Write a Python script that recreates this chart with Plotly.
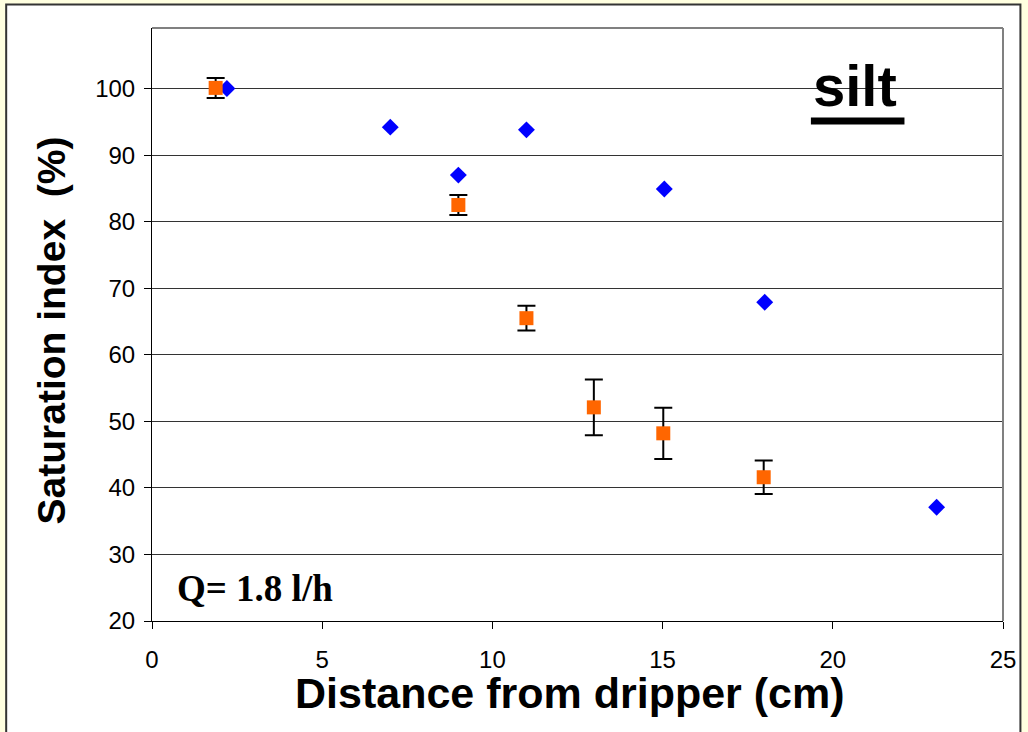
import plotly.graph_objects as go

# Data
blue_x = [2.2, 7.0, 9.0, 11.0, 15.05, 18.0, 23.05]
blue_y = [100.0, 94.2, 87.0, 93.8, 84.9, 67.9, 37.1]

orange_x = [1.87, 9.0, 11.0, 12.98, 15.02, 17.97]
orange_y = [100.1, 82.5, 65.5, 52.1, 48.2, 41.6]
orange_err = [1.5, 1.5, 1.85, 4.2, 3.85, 2.5]

x_ticks = [0, 5, 10, 15, 20, 25]
y_ticks = [20, 30, 40, 50, 60, 70, 80, 90, 100]

fig = go.Figure()
fig.add_trace(go.Scatter(
    x=blue_x, y=blue_y, mode="markers",
    marker=dict(symbol="diamond", size=13, color="#0000FF", line=dict(width=0)),
    showlegend=False))
fig.add_trace(go.Scatter(
    x=orange_x, y=orange_y, mode="markers",
    marker=dict(symbol="square", size=14, color="#FF6600", line=dict(width=0)),
    error_y=dict(type="data", array=orange_err, visible=True, color="black",
                 thickness=2, width=9),
    showlegend=False))

L, R, T, B = 152, 1007, 28, 621
W, H = 1028, 732
pw, ph = R - L, B - T

def px(p):
    return (p - L) / pw

def py(p):
    return (B - p) / ph

shapes = [
    dict(type="rect", xref="paper", yref="paper", layer="below",
         x0=px(5.5), x1=px(1024.5), y0=py(760), y1=py(4.5),
         fillcolor="white", line=dict(color="#333333", width=2)),
]

fig.update_layout(
    width=W, height=H,
    margin=dict(l=L, r=W - R, t=T, b=H - B),
    paper_bgcolor="#FFFFE0",
    plot_bgcolor="#CCCCFF",
    shapes=shapes,
    font=dict(family="Liberation Sans, Arial", color="black"),
    xaxis=dict(range=[0, 25], tickvals=x_ticks, ticks="outside", ticklen=7,
               tickcolor="black", tickfont=dict(size=24), ticklabelstandoff=10,
               showgrid=False, zeroline=False,
               showline=True, linecolor="black", linewidth=1, mirror=False),
    yaxis=dict(range=[20, 109.1], tickvals=y_ticks, ticks="outside", ticklen=7,
               tickcolor="black", tickfont=dict(size=24), ticklabelstandoff=4,
               showgrid=True, gridcolor="#333333", gridwidth=1, zeroline=False,
               showline=True, linecolor="black", linewidth=1),
    annotations=[
        dict(xref="paper", yref="paper", x=px(571.5), y=py(693), xanchor="center",
             yanchor="middle", showarrow=False,
             text="<b>Distance from dripper (cm)</b>", font=dict(size=43)),
        dict(xref="paper", yref="paper", x=px(52), y=py(330), xanchor="center",
             yanchor="middle", showarrow=False, textangle=-90,
             text="<b>Saturation index  (%)</b>", font=dict(size=39)),
        dict(xref="paper", yref="paper", x=px(814), y=py(120), xanchor="left",
             yanchor="bottom", showarrow=False,
             text="<b>silt</b>", font=dict(size=58, family="Liberation Sans, Arial")),
        dict(xref="paper", yref="paper", x=px(175), y=py(588), xanchor="left",
             yanchor="middle", showarrow=False,
             text="<b>Q= 1.8 l/h</b>",
             font=dict(size=37, family="Liberation Serif, Times New Roman")),
    ],
)
# underline bar under "silt"
fig.add_shape(type="rect", xref="paper", yref="paper",
              x0=px(814), x1=px(908), y0=py(124.5), y1=py(117.5),
              fillcolor="black", line=dict(width=0))
# grey top/right border of the plot area
fig.add_shape(type="line", xref="paper", yref="paper", x0=0, x1=1, y0=1, y1=1,
              line=dict(color="#808080", width=2))
fig.add_shape(type="line", xref="paper", yref="paper", x0=1, x1=1, y0=0, y1=1,
              line=dict(color="#808080", width=2))

fig.write_html("out.html")
